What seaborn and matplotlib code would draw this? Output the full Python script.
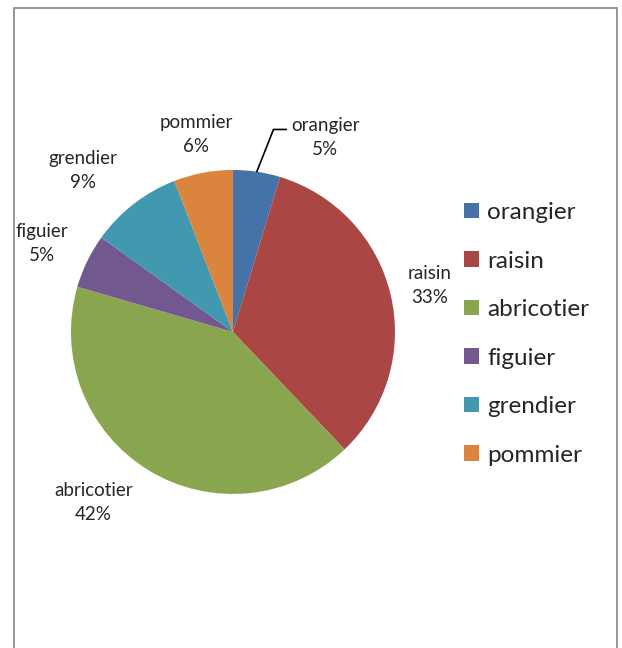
import numpy as np
import seaborn as sns
import matplotlib.pyplot as plt
from matplotlib.patches import Rectangle

# data (percent of total)
trees = ['orangier', 'raisin', 'abricotier', 'figuier', 'grendier', 'pommier']
shares = [4.7, 33.2, 41.6, 5.4, 9.2, 5.9]
colors = ['#4572A7', '#AA4643', '#89A54E', '#71588F', '#4198AF', '#DB843D']

sns.set_theme(style='white')
plt.rcParams['font.family'] = ['Lato', 'DejaVu Sans']

fig = plt.figure(figsize=(6.22, 6.48), dpi=100)
ax = fig.add_axes([0.1141, 0.2377, 0.5209, 0.5])

pal = sns.color_palette(colors)
wedges, _ = ax.pie(shares, colors=pal, startangle=90, counterclock=False,
                   radius=1.0, wedgeprops=dict(linewidth=0))
ax.set_xlim(-1, 1)
ax.set_ylim(-1, 1)
ax.set_aspect('equal')

# label radius (in units of pie radius) and angular nudge in degrees
lab_r = [None, 1.25, 1.36, 1.30, 1.36, 1.24]
lab_nudge = [0, 0, -8, 1, 5, 0]
total = sum(shares)
for i, w in enumerate(wedges):
    mid = np.deg2rad((w.theta1 + w.theta2) / 2)
    txt = f'{trees[i]}\n{round(shares[i] / total * 100):.0f}%'
    if lab_r[i] is None:
        # leader line for the small first slice
        x0, y0 = np.cos(mid), np.sin(mid)
        ax.plot([x0, 0.25, 0.33], [y0, 1.25, 1.25], color='black', lw=1.2,
                clip_on=False)
        ax.text(0.57, 1.20, txt, ha='center', va='center', fontsize=13.5,
                linespacing=1.5, clip_on=False)
        continue
    a = mid + np.deg2rad(lab_nudge[i])
    ax.text(lab_r[i] * np.cos(a), lab_r[i] * np.sin(a), txt, ha='center',
            va='center', fontsize=13.5, linespacing=1.5, clip_on=False)

fig.legend(wedges, trees, loc='upper left', bbox_to_anchor=(0.731, 0.703),
           frameon=False, fontsize=17.5, handlelength=0.6, handleheight=0.6,
           handletextpad=0.35, labelspacing=1.13, borderaxespad=0)

fig.patches.append(Rectangle((13.5 / 622, -0.1), 603 / 622, 1.1 - 8.5 / 648,
                             transform=fig.transFigure, fill=False,
                             edgecolor='#868686', linewidth=1.2))

fig.savefig('out.png', dpi=100, facecolor='white')
